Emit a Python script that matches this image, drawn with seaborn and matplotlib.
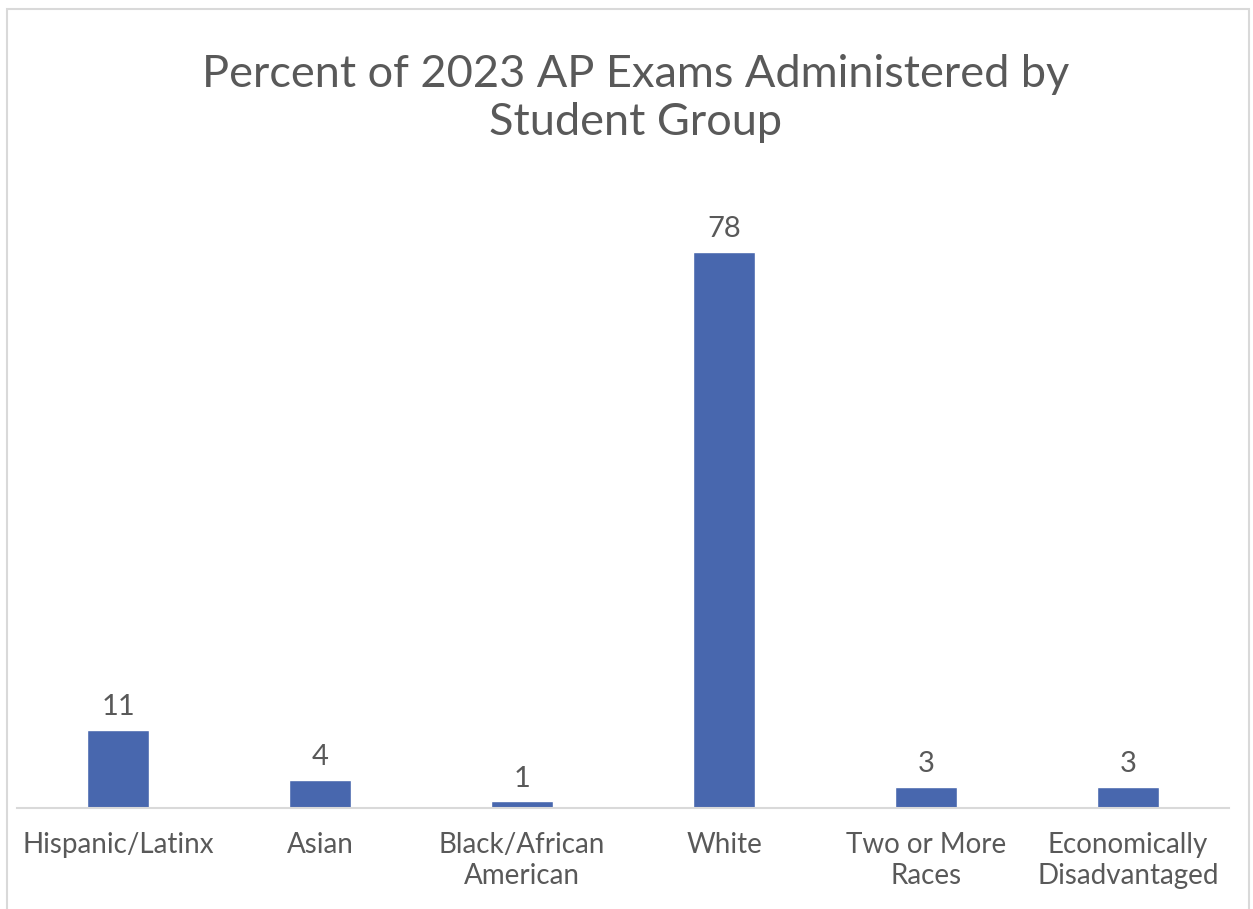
import pandas as pd
import seaborn as sns
import matplotlib.pyplot as plt
from matplotlib.patches import Rectangle

sns.set_theme(style="white")
plt.rcParams['font.family'] = ['Lato', 'DejaVu Sans']

groups = ["Hispanic/Latinx", "Asian", "Black/African\nAmerican", "White",
          "Two or More\nRaces", "Economically\nDisadvantaged"]
percents = [11, 4, 1, 78, 3, 3]

df = pd.DataFrame({"group": groups, "percent": percents})

grey = "#595959"
fig = plt.figure(figsize=(12.53, 9.09), dpi=100)
ax = fig.add_axes([0.0136, 0.111, 0.9673, 0.7063])

sns.barplot(data=df, x="group", y="percent", color="#4867ae", width=0.31,
            saturation=1, ax=ax)
ax.set_ylim(0, 90)
ax.set_xlim(-0.5, len(groups) - 0.5)

# value labels above bars
for i, v in enumerate(percents):
    ax.text(i, v + 1.3, str(v), ha="center", va="bottom", fontsize=21, color=grey)

ax.set_xlabel("")
ax.set_ylabel("")
ax.set_yticks([])
for s in ["top", "left", "right"]:
    ax.spines[s].set_visible(False)
ax.spines["bottom"].set_color("#d9d9d9")
ax.spines["bottom"].set_linewidth(1.5)
ax.tick_params(axis="x", length=0, pad=17, labelsize=20, labelcolor=grey)
for lab in ax.get_xticklabels():
    lab.set_linespacing(1.25)
ax.patch.set_alpha(0)

fig.text(0.5076, 0.8916, "Percent of 2023 AP Exams Administered by\nStudent Group",
         ha="center", va="center", fontsize=32.5, color=grey, linespacing=1.2)

# chart area border
fig.patches.append(Rectangle((7 / 1253, -0.01), 1242 / 1253, 1 - 9 / 909 + 0.01,
                             transform=fig.transFigure, fill=False,
                             edgecolor="#d9d9d9", linewidth=1.5))

fig.savefig("out.png", dpi=100)
